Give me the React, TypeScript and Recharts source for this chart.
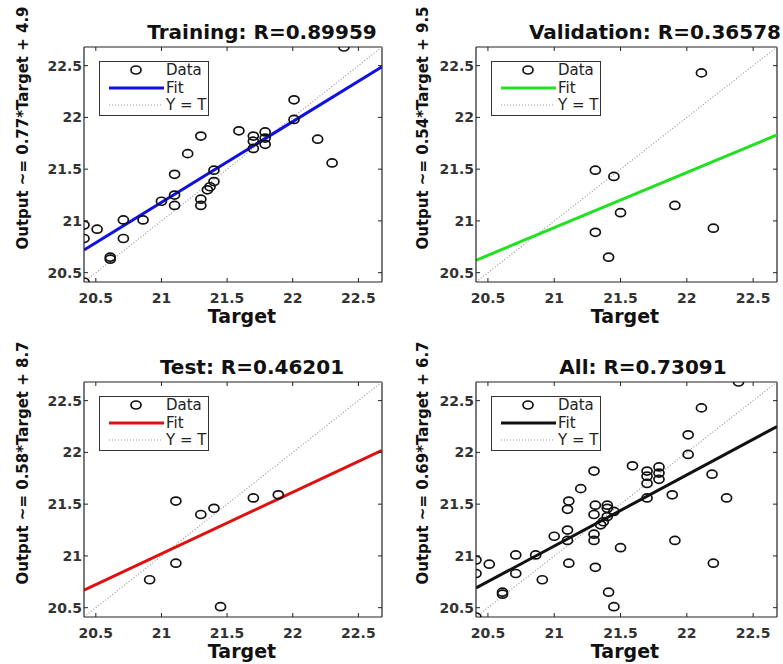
import React from "react";
import {
  ComposedChart,
  Legend,
  Line,
  ReferenceLine,
  Scatter,
  XAxis,
  YAxis,
} from "recharts";

// axis limits and ticks (same for all four panels)
const LIMITS = [20.41, 22.68];
const TICKS = [20.5, 21, 21.5, 22, 22.5];

// training set: target / output
const TRAIN_X = [20.41, 20.51, 20.41, 20.41, 20.61, 20.61, 20.71, 20.71, 20.86, 21.0, 21.1, 21.1, 21.1, 21.2, 21.3, 21.3, 21.3, 21.35, 21.37, 21.4, 21.4, 21.59, 21.7, 21.7, 21.7, 21.79, 21.79, 21.79, 22.01, 22.01, 22.19, 22.3, 22.39];
const TRAIN_Y = [20.96, 20.92, 20.83, 20.41, 20.63, 20.65, 21.01, 20.83, 21.01, 21.19, 21.15, 21.25, 21.45, 21.65, 21.82, 21.15, 21.21, 21.3, 21.33, 21.38, 21.49, 21.87, 21.82, 21.7, 21.77, 21.86, 21.8, 21.74, 22.17, 21.98, 21.79, 21.56, 22.68];

const VAL_X = [21.31, 21.45, 21.5, 21.31, 21.41, 21.91, 22.11, 22.2];
const VAL_Y = [21.49, 21.43, 21.08, 20.89, 20.65, 21.15, 22.43, 20.93];

const TEST_X = [21.11, 21.3, 21.4, 21.7, 21.89, 21.11, 20.91, 21.45];
const TEST_Y = [21.53, 21.4, 21.46, 21.56, 21.59, 20.93, 20.77, 20.51];

const ALL_X = [...TRAIN_X, ...VAL_X, ...TEST_X];
const ALL_Y = [...TRAIN_Y, ...VAL_Y, ...TEST_Y];

// fit line output at the left and right axis limits
const TRAIN_FIT = [20.72, 22.49];
const VAL_FIT = [20.62, 21.83];
const TEST_FIT = [20.67, 22.02];
const ALL_FIT = [20.69, 22.25];

const FONT = "'DejaVu Sans', Arial, sans-serif";
const PT = 44;
const PH = 235;
const PL = 80;
const XH = 50;

const toPts = (xs: number[], ys: number[]) => xs.map((x, i) => ({ x, y: ys[i] }));

function LegendBox({ color }: { color: string }) {
  return (
    <div
      style={{
        width: 110,
        height: 55,
        boxSizing: "border-box",
        border: "1.5px solid #333",
        background: "#fff",
      }}
    >
      <svg width={107} height={52} style={{ display: "block" }}>
        <ellipse cx={36} cy={8} rx={5} ry={4} fill="none" stroke="#111" strokeWidth={1.7} />
        <text x={66} y={13} fontFamily={FONT} fontSize={15} fill="#222">Data</text>
        <line x1={9} x2={64} y1={26} y2={26} stroke={color} strokeWidth={3} />
        <text x={66} y={31} fontFamily={FONT} fontSize={15} fill="#222">Fit</text>
        <line x1={9} x2={62} y1={43} y2={43} stroke="#999" strokeWidth={1.2} strokeDasharray="1 2" />
        <text x={66} y={48} fontFamily={FONT} fontSize={15} fill="#222">Y = T</text>
      </svg>
    </div>
  );
}

function Panel({
  left,
  top,
  plotW,
  title,
  titleX,
  yLabel,
  yLabelX,
  targetX,
  xs,
  ys,
  fit,
  color,
}: {
  left: number;
  top: number;
  plotW: number;
  title: string;
  titleX: number;
  yLabel: string;
  yLabelX: number;
  targetX: number;
  xs: number[];
  ys: number[];
  fit: number[];
  color: string;
}) {
  const pb = PT + PH;
  const pr = PL + plotW;
  const fitData = [
    { x: LIMITS[0], y: fit[0] },
    { x: LIMITS[1], y: fit[1] },
  ];
  const idData = [
    { x: LIMITS[0], y: LIMITS[0] },
    { x: LIMITS[1], y: LIMITS[1] },
  ];

  const xTick = (p: any) => (
    <g>
      <line x1={p.x} x2={p.x} y1={pb} y2={pb - 4} stroke="#222" />
      <line x1={p.x} x2={p.x} y1={PT} y2={PT + 4} stroke="#222" />
      <text x={p.x} y={pb + 21} textAnchor="middle" fontFamily={FONT} fontWeight="bold" fontSize={14} fill="#333">
        {p.payload.value}
      </text>
    </g>
  );
  const yTick = (p: any) => (
    <g>
      <line x1={PL} x2={PL + 4} y1={p.y} y2={p.y} stroke="#222" />
      <line x1={pr} x2={pr - 4} y1={p.y} y2={p.y} stroke="#222" />
      <text x={PL - 2} y={p.y + 5} textAnchor="end" fontFamily={FONT} fontWeight="bold" fontSize={14} fill="#333">
        {p.payload.value}
      </text>
    </g>
  );

  return (
    <div style={{ position: "absolute", left, top }}>
      <ComposedChart
        width={PL + plotW + 6}
        height={PT + PH + XH}
        margin={{ top: PT, right: 6, bottom: 0, left: 0 }}
      >
        <XAxis
          type="number"
          dataKey="x"
          domain={LIMITS}
          ticks={TICKS}
          interval={0}
          allowDataOverflow
          height={XH}
          axisLine={{ stroke: "#222", strokeWidth: 1.2 }}
          tickLine={false}
          tick={xTick}
        />
        <YAxis
          type="number"
          dataKey="y"
          domain={LIMITS}
          ticks={TICKS}
          interval={0}
          allowDataOverflow
          width={PL}
          axisLine={{ stroke: "#222", strokeWidth: 1.2 }}
          tickLine={false}
          tick={yTick}
        />
        <ReferenceLine y={LIMITS[1]} stroke="#222" strokeWidth={1.2} />
        <ReferenceLine x={LIMITS[1]} stroke="#222" strokeWidth={1.2} />
        <Line
          data={idData}
          dataKey="y"
          stroke="#999"
          strokeWidth={1.2}
          strokeDasharray="1 2"
          dot={false}
          isAnimationActive={false}
        />
        <Line
          data={fitData}
          dataKey="y"
          stroke={color}
          strokeWidth={3}
          dot={false}
          isAnimationActive={false}
        />
        <Scatter
          data={toPts(xs, ys)}
          isAnimationActive={false}
          shape={(p: any) => (
            <ellipse cx={p.cx} cy={p.cy} rx={5} ry={4} fill="none" stroke="#111" strokeWidth={1.7} />
          )}
        />
        <Legend
          layout="horizontal"
          verticalAlign="middle"
          align="center"
          content={() => <LegendBox color={color} />}
          wrapperStyle={{ position: "absolute", left: PL + 15, top: PT + 14, width: "auto" }}
        />
        <text x={titleX} y={36} textAnchor="middle" fontFamily={FONT} fontWeight="bold" fontSize={20} fill="#111">
          {title}
        </text>
        <text
          x={yLabelX}
          y={125}
          transform={`rotate(-90, ${yLabelX}, 125)`}
          textAnchor="middle"
          dominantBaseline="central"
          fontFamily={FONT}
          fontWeight="bold"
          fontSize={15}
          fill="#111"
        >
          {yLabel}
        </text>
        <text x={targetX} y={pb + 41} textAnchor="middle" fontFamily={FONT} fontWeight="bold" fontSize={19} fill="#111">
          Target
        </text>
      </ComposedChart>
    </div>
  );
}

export default function App() {
  return (
    <div
      style={{
        position: "absolute",
        left: 0,
        top: 0,
        width: 783,
        height: 664,
        overflow: "hidden",
        background: "#fff",
      }}
    >
      <Panel left={4} top={3} plotW={298} title="Training: R=0.89959" titleX={258}
        yLabel="Output ~= 0.77*Target + 4.9" yLabelX={19} targetX={238}
        xs={TRAIN_X} ys={TRAIN_Y} fit={TRAIN_FIT} color="#1010e0" />
      <Panel left={396} top={3} plotW={301} title="Validation: R=0.36578" titleX={259}
        yLabel="Output ~= 0.54*Target + 9.5" yLabelX={27} targetX={229}
        xs={VAL_X} ys={VAL_Y} fit={VAL_FIT} color="#22e022" />
      <Panel left={4} top={338} plotW={298} title="Test: R=0.46201" titleX={248}
        yLabel="Output ~= 0.58*Target + 8.7" yLabelX={19} targetX={238}
        xs={TEST_X} ys={TEST_Y} fit={TEST_FIT} color="#e01010" />
      <Panel left={396} top={338} plotW={301} title="All: R=0.73091" titleX={247}
        yLabel="Output ~= 0.69*Target + 6.7" yLabelX={27} targetX={229}
        xs={ALL_X} ys={ALL_Y} fit={ALL_FIT} color="#111" />
    </div>
  );
}
